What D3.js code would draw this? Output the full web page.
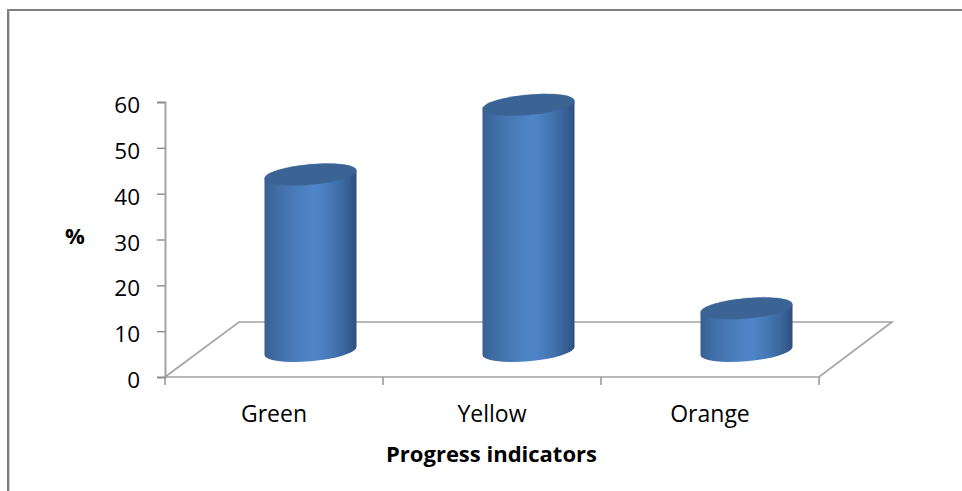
<!DOCTYPE html>
<html>
<head>
<meta charset="utf-8">
<script src="https://cdn.jsdelivr.net/npm/d3@7"></script>
<style>
html,body{margin:0;padding:0;background:#fff}
svg{display:block}
text{font-family:"Open Sans",Lato,sans-serif;fill:#000}
</style>
</head>
<body>
<svg id="chart" width="962" height="491"></svg>
<script>
const categories = ["Green", "Yellow", "Orange"];
const percentages = [38.5, 53.7, 9.3];
const yTicks = [0, 10, 20, 30, 40, 50, 60];
const yAxisTitle = "%";
const xAxisTitle = "Progress indicators";

const svg = d3.select("#chart");
const axisGrey = "#a3a3a3";
const labelFont = "\"Open Sans\",Lato,sans-serif";

// Front edge of the floor and the oblique offset to its back edge
const plot = {left: 165, right: 819, top: 102, bottom: 377};
const depth = {dx: 74, dy: -55};

const x = d3.scaleBand().domain(categories).range([plot.left, plot.right]);
const y = d3.scaleLinear().domain([0, 60]).range([plot.bottom, plot.top]);

// Cylinder shading, dark at both sides with a bright band past the middle
const defs = svg.append("defs");
const grad = defs.append("linearGradient").attr("id", "cyl").attr("x1", 0).attr("x2", 1).attr("y1", 0).attr("y2", 0);
[[0, "#39608f"], [0.12, "#3f6ca5"], [0.35, "#4a7cba"], [0.55, "#5086c9"], [0.75, "#4375b1"], [0.92, "#365f93"], [1, "#2e4f7c"]]
  .forEach(([o, c]) => grad.append("stop").attr("offset", o).attr("stop-color", c));
const glow = defs.append("filter").attr("id", "soft").attr("x", "-5%").attr("y", "-5%").attr("width", "110%").attr("height", "110%");
glow.append("feGaussianBlur").attr("stdDeviation", 0.5);

// Outer frame along the top and left
const frame = svg.append("g");
frame.append("path").attr("d", "M8,491V10H962").attr("fill", "none").attr("stroke", "#7f7f7f").attr("stroke-width", 2);
frame.append("path").attr("d", "M9.5,491V11.5").attr("fill", "none").attr("stroke", "#d0d0d0").attr("stroke-width", 1);

// Floor parallelogram
svg.append("path")
  .attr("d", d3.line()([
    [plot.left, plot.bottom],
    [plot.left + depth.dx, plot.bottom + depth.dy],
    [plot.right + depth.dx - 1, plot.bottom + depth.dy],
    [plot.right, plot.bottom],
    [plot.left, plot.bottom]
  ]))
  .attr("fill", "none").attr("stroke", axisGrey).attr("stroke-width", 1.6);

// Value axis
const yAxis = svg.append("g").attr("transform", `translate(${plot.left},0)`)
  .call(d3.axisLeft(y).tickValues(yTicks).tickSize(8).tickPadding(17));
yAxis.selectAll("path").attr("stroke", axisGrey).attr("stroke-width", 2);
yAxis.selectAll("line").attr("stroke", "#8c8c8c").attr("stroke-width", 1.4);
yAxis.selectAll("text").attr("font-size", 22.5).attr("font-family", labelFont).attr("dy", "0.47em");

// Category axis: labels at band centres, ticks at band edges
const xAxis = svg.append("g").attr("transform", `translate(0,${plot.bottom})`)
  .call(d3.axisBottom(x).tickSize(0).tickPadding(28.7));
xAxis.select("path").remove();
xAxis.selectAll("text").attr("font-size", 23).attr("font-family", labelFont);
const edges = categories.map(c => x(c)).concat(plot.right);
svg.append("g").selectAll("line").data(edges).join("line")
  .attr("x1", d => d).attr("x2", d => d)
  .attr("y1", plot.bottom).attr("y2", plot.bottom + 8)
  .attr("stroke", "#8c8c8c").attr("stroke-width", 1.4);

// Cylinders stand in the middle of the floor depth
const rx = 46.2, ry = 10.2, tilt = -5.2;
const rad = tilt * Math.PI / 180;
const tipX = Math.hypot(rx * Math.cos(rad), ry * Math.sin(rad));
const tipY = (rx * rx - ry * ry) * Math.sin(rad) * Math.cos(rad) / tipX;
const baseShift = {dx: depth.dx / 2, dy: depth.dy / 2 + 1.5};

const bars = svg.append("g").selectAll("g").data(categories.map((c, i) => ({c, v: percentages[i]}))).join("g")
  .attr("transform", d => `translate(${x(d.c) + x.bandwidth() / 2 + baseShift.dx - 0.5},0)`);

bars.append("path")
  .attr("filter", "url(#soft)")
  .attr("fill", "url(#cyl)")
  .attr("d", d => {
    const yb = plot.bottom + baseShift.dy;
    const yt = yb - (y(0) - y(d.v));
    return `M${-tipX},${yt - tipY}` +
      `L${-tipX},${yb - tipY}` +
      `A${rx},${ry} ${tilt} 0 0 ${tipX},${yb + tipY}` +
      `L${tipX},${yt + tipY}` +
      `A${rx},${ry} ${tilt} 0 0 ${-tipX},${yt - tipY}Z`;
  });

bars.append("ellipse")
  .attr("filter", "url(#soft)")
  .attr("rx", rx).attr("ry", ry)
  .attr("fill", "#3a6494")
  .attr("transform", d => {
    const yb = plot.bottom + baseShift.dy;
    return `translate(0,${yb - (y(0) - y(d.v))}) rotate(${tilt})`;
  });

// Axis titles
svg.append("text").attr("x", 75).attr("y", 244).attr("text-anchor", "middle")
  .attr("font-size", 22).attr("font-weight", 700).text(yAxisTitle);
svg.append("text").attr("x", 491.5).attr("y", 462).attr("text-anchor", "middle")
  .attr("font-size", 22).attr("font-weight", 700).text(xAxisTitle);
</script>
</body>
</html>
